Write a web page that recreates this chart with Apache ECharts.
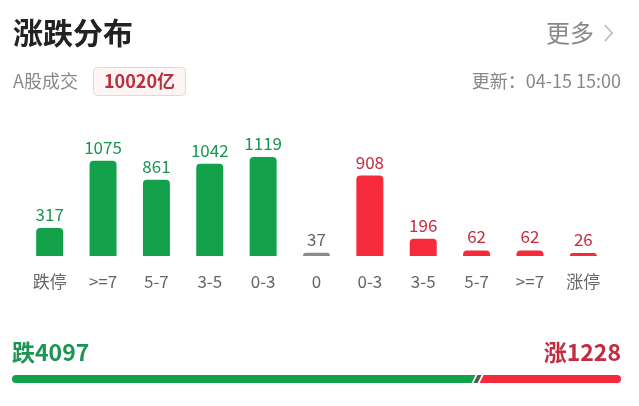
<!DOCTYPE html>
<html>
<head>
<meta charset="utf-8">
<script src="https://cdn.jsdelivr.net/npm/echarts@6/dist/echarts.min.js"></script>
<style>
html,body{margin:0;padding:0;background:#fff;}
#main{width:639px;height:406px;}
</style>
</head>
<body>
<div id="main"></div>
<script>
// ---- data ----
const categories = ['跌停', '>=7', '5-7', '3-5', '0-3', '0', '0-3', '3-5', '5-7', '>=7', '涨停'];
const counts = [317, 1075, 861, 1042, 1119, 37, 908, 196, 62, 62, 26];
const downTotal = 4097;
const upTotal = 1228;
const turnover = '10020亿';
const updateTime = '04-15 15:00';

// ---- styles ----
const FONT = '"Noto Sans CJK SC", "Noto Sans", sans-serif';
const GREEN = '#13a24b', RED = '#f52a3a', GRAY = '#8a8a8a';
const GREEN_T = '#1b9552', RED_T = '#c32c41', GRAY_T = '#666';
const flatIdx = categories.indexOf('0');
function colorOf(i) { return i < flatIdx ? GREEN : (i === flatIdx ? GRAY : RED); }
function textColorOf(i) { return i < flatIdx ? GREEN_T : (i === flatIdx ? GRAY_T : RED_T); }

const barData = counts.map((v, i) => ({
  value: v,
  itemStyle: { color: colorOf(i) },
  label: { color: textColorOf(i) }
}));

const progressData = [
  [0, downTotal, 0],
  [downTotal, downTotal, 1],
  [downTotal, downTotal + upTotal, 2]
];

const chart = echarts.init(document.getElementById('main'));
chart.setOption({
  backgroundColor: '#fff',
  animation: false,
  textStyle: { fontFamily: FONT },
  grid: [
    { left: 23, right: 29, top: 132, bottom: 150 },
    { left: 12, right: 18, top: 375, height: 8 }
  ],
  xAxis: [
    {
      type: 'category', data: categories, gridIndex: 0,
      axisLine: { show: false }, axisTick: { show: false },
      axisLabel: { color: '#666', fontSize: 17, margin: 17, fontFamily: FONT }
    },
    { type: 'value', gridIndex: 1, min: 0, max: downTotal + upTotal, show: false }
  ],
  yAxis: [
    { type: 'value', gridIndex: 0, min: 0, max: 1400, show: false },
    { type: 'value', gridIndex: 1, min: 0, max: 1, show: false }
  ],
  series: [
    {
      type: 'bar', xAxisIndex: 0, yAxisIndex: 0,
      data: barData, barWidth: 27, barMinHeight: 3,
      itemStyle: { borderRadius: [4, 4, 0, 0] },
      label: { show: true, position: 'top', distance: 5, fontSize: 17, fontFamily: FONT }
    },
    {
      type: 'custom', xAxisIndex: 1, yAxisIndex: 1,
      data: progressData,
      renderItem: function (params, api) {
        const s = api.coord([api.value(0), 0.5]);
        const e = api.coord([api.value(1), 0.5]);
        const kind = api.value(2);
        const h = 8, top = s[1] - h / 2, bot = s[1] + h / 2, r = 4;
        if (kind === 0) {
          const bx = e[0];
          return { type: 'group', children: [
            { type: 'circle', shape: { cx: s[0] + r, cy: s[1], r: r }, style: { fill: GREEN } },
            { type: 'polygon', shape: { points: [[s[0] + r, top], [bx - 5, top], [bx - 9, bot], [s[0] + r, bot]] }, style: { fill: GREEN } }
          ]};
        } else if (kind === 1) {
          const bx = s[0];
          return { type: 'polygon', shape: { points: [[bx - 3, top], [bx + 1, top], [bx - 3, bot], [bx - 7, bot]] }, style: { fill: '#555' } };
        } else {
          const bx = s[0];
          return { type: 'group', children: [
            { type: 'polygon', shape: { points: [[bx + 3, top], [e[0] - r, top], [e[0] - r, bot], [bx - 1, bot]] }, style: { fill: RED } },
            { type: 'circle', shape: { cx: e[0] - r, cy: e[1], r: r }, style: { fill: RED } }
          ]};
        }
      }
    }
  ],
  graphic: [
    { type: 'text', x: 13, y: 33, style: { text: '涨跌分布', fill: '#222', font: 'bold 30px ' + FONT, textVerticalAlign: 'middle' } },
    { type: 'text', x: 594, y: 33, style: { text: '更多', fill: '#888', font: '24px ' + FONT, textAlign: 'right', textVerticalAlign: 'middle' } },
    { type: 'polyline', shape: { points: [[605, 25], [612, 33], [605, 41]] }, style: { stroke: '#bbb', lineWidth: 1.6, fill: null } },
    { type: 'text', x: 13, y: 81, style: { text: 'A股成交', fill: '#888', font: '18px ' + FONT, textVerticalAlign: 'middle' } },
    { type: 'rect', shape: { x: 93.5, y: 67.5, width: 92, height: 28, r: 4 }, style: { fill: '#fdf4f4', stroke: '#efd3d3', lineWidth: 1 } },
    { type: 'text', x: 139.5, y: 81.5, style: { text: turnover, fill: '#b8303f', font: 'bold 18px ' + FONT, textAlign: 'center', textVerticalAlign: 'middle' } },
    { type: 'text', x: 621, y: 81, style: { text: '更新：' + updateTime, fill: '#888', font: '18px ' + FONT, textAlign: 'right', textVerticalAlign: 'middle' } },
    { type: 'text', x: 12, y: 352, style: { text: '跌' + downTotal, fill: '#1b9552', font: 'bold 23px ' + FONT, textVerticalAlign: 'middle' } },
    { type: 'text', x: 621, y: 352, style: { text: '涨' + upTotal, fill: '#c32c41', font: 'bold 23px ' + FONT, textAlign: 'right', textVerticalAlign: 'middle' } }
  ]
});
</script>
</body>
</html>
